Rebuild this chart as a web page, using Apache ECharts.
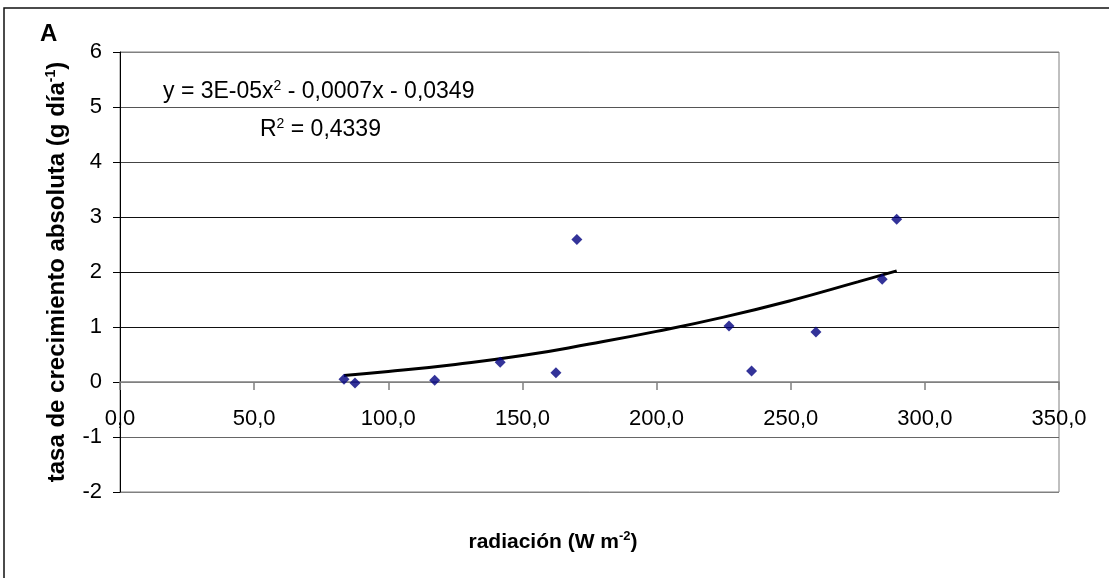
<!DOCTYPE html>
<html>
<head>
<meta charset="utf-8">
<script src="https://cdn.jsdelivr.net/npm/echarts@6/dist/echarts.min.js"></script>
<style>
  html, body { margin: 0; padding: 0; background: #fff; }
  #chart { width: 1109px; height: 578px; }
</style>
</head>
<body>
<div id="chart"></div>
<script>
// Observed points: radiation (W m-2) vs absolute growth rate (g día-1)
const radiacion = [83.5, 87.6, 117.3, 141.7, 162.5, 170.3, 227.0, 235.4, 259.4, 284.1, 289.5];
const tasa      = [0.05, -0.02, 0.03, 0.36, 0.17, 2.59, 1.02, 0.20, 0.91, 1.87, 2.96];

// Polynomial (order 2) trend line, sampled along its length
const trendX = [83.5, 100, 125, 150, 175, 200, 225, 250, 275, 289.5];
const trendY = [0.12, 0.19, 0.32, 0.48, 0.69, 0.92, 1.18, 1.48, 1.82, 2.02];

const ecuacion = 'y = 3E-05x{sup|2} - 0,0007x - 0,0349';
const r2 = 'R{sup|2} = 0,4339';
const panel = 'A';

const FONT = '"Liberation Sans", Arial, sans-serif';

const points = radiacion.map((x, i) => [x, tasa[i]]);
const trend = trendX.map((x, i) => [x, trendY[i]]);

const chart = echarts.init(document.getElementById('chart'));
chart.setOption({
  animation: false,
  backgroundColor: '#ffffff',
  grid: {
    left: 120, top: 52, right: 50, bottom: 86,
    outerBoundsMode: 'none',
    containLabel: false,
    show: true, borderColor: '#808080', borderWidth: 1
  },
  xAxis: {
    type: 'value',
    min: 0, max: 350, interval: 50,
    name: 'radiación (W m{sup|-2})',
    nameLocation: 'middle',
    nameGap: 38,
    nameMoveOverlap: false,
    nameTextStyle: {
      fontFamily: FONT, fontSize: 21, fontWeight: 'bold', color: '#000',
      padding: [0, 73, 0, 0],
      rich: { sup: { fontFamily: FONT, fontSize: 13, fontWeight: 'bold', color: '#000', padding: [0, 0, 12, 0] } }
    },
    axisLine: { onZero: true, lineStyle: { color: '#808080', width: 1.5 } },
    axisTick: { show: true, length: 8, inside: false, lineStyle: { color: '#808080', width: 1.5 } },
    // tick labels sit just under the zero line, inside the plot frame
    axisLabel: {
      fontFamily: FONT, fontSize: 22, color: '#000', margin: -84,
      formatter: v => v.toFixed(1).replace('.', ',')
    },
    splitLine: { show: false }
  },
  yAxis: {
    type: 'value',
    min: -2, max: 6, interval: 1,
    name: 'tasa de crecimiento absoluta (g día{sup|-1})',
    nameLocation: 'middle',
    nameGap: 50,
    nameTextStyle: {
      fontFamily: FONT, fontSize: 24, fontWeight: 'bold', color: '#000',
      rich: { sup: { fontFamily: FONT, fontSize: 14, fontWeight: 'bold', color: '#000', padding: [0, 0, 12, 0] } }
    },
    axisLine: { show: true, onZero: false, lineStyle: { color: '#000', width: 1 } },
    axisTick: { show: true, length: 7, lineStyle: { color: '#000', width: 1 } },
    axisLabel: { fontFamily: FONT, fontSize: 22, color: '#000', margin: 18 },
    splitLine: {
      show: true,
      lineStyle: {
        color: ['#808080', '#666', '#808080', '#111', '#111', '#111', '#444', '#555', '#808080'],
        width: 1.2
      }
    }
  },
  graphic: [
    {
      type: 'rect', silent: true, z: -1,
      shape: { x: 4, y: 8, width: 1130, height: 600 },
      style: { fill: 'none', stroke: '#111', lineWidth: 1.5 }
    },
    {
      type: 'text', left: 40, top: 22,
      style: { text: panel, font: 'bold 24px ' + FONT, fill: '#000' }
    },
    {
      type: 'text', x: 163, y: 92,
      style: {
        text: ecuacion, fontFamily: FONT, fontSize: 23, fill: '#000',
        verticalAlign: 'middle',
        rich: { sup: { fontFamily: FONT, fontSize: 14, fill: '#000', padding: [0, 0, 12, 0] } }
      }
    },
    {
      type: 'text', x: 260, y: 130,
      style: {
        text: r2, fontFamily: FONT, fontSize: 23, fill: '#000',
        verticalAlign: 'middle',
        rich: { sup: { fontFamily: FONT, fontSize: 14, fill: '#000', padding: [0, 0, 12, 0] } }
      }
    }
  ],
  series: [
    {
      name: 'tendencia',
      type: 'line',
      data: trend,
      smooth: true,
      showSymbol: false,
      symbol: 'none',
      lineStyle: { color: '#000', width: 3 },
      z: 3
    },
    {
      name: 'tasa',
      type: 'scatter',
      data: points,
      symbol: 'diamond',
      symbolSize: 11,
      itemStyle: { color: '#000080' },
      z: 4
    }
  ]
});
</script>
</body>
</html>
